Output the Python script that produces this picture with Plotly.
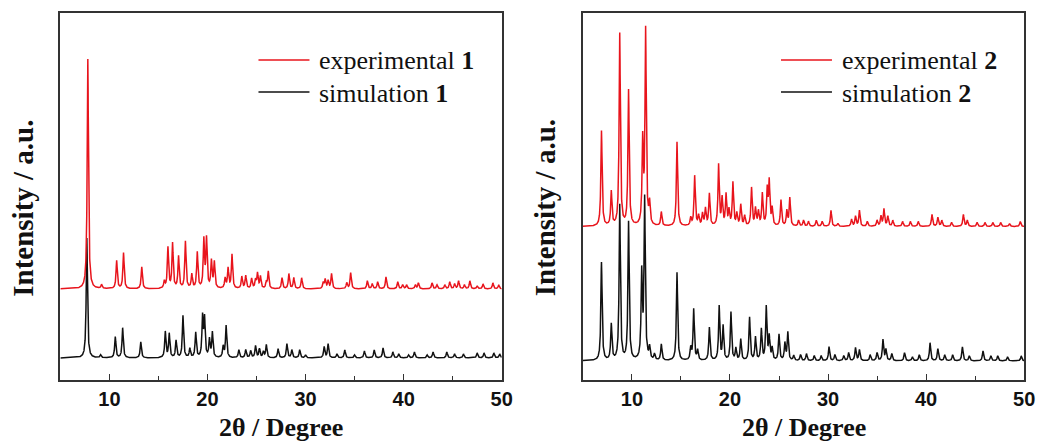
import numpy as np
import plotly.graph_objects as go

# ---------------- data (peak positions in 2theta, peak heights in a.u.) ----------------
exp1_pos = [7.8, 9.2, 10.74, 11.44, 13.3, 15.6, 15.97, 16.44, 17.05, 17.75, 18.4, 18.96, 19.63, 19.9,
            20.4, 20.7, 21.8, 22.1, 22.5, 23.5, 23.9, 24.5, 24.9, 25.1, 25.4, 26.0, 26.2, 27.6, 28.3,
            28.8, 29.6, 31.8, 32.0, 32.3, 32.65, 34.2, 34.6, 36.3, 36.8, 37.35, 38.2, 39.4, 39.9,
            40.3, 41.2, 41.5, 42.9, 43.4, 44.2, 44.7, 45.2, 45.6, 46.2, 46.75, 47.5, 48.1, 49.1, 49.7]
exp1_int = [230, 4, 28, 36, 22, 7, 41, 45, 32, 47, 14, 36, 48, 49,
            27, 26, 10, 20, 34, 12, 13, 10, 8, 15, 12, 6, 17, 11, 15,
            11, 11, 6, 9, 8, 15, 6, 16, 8, 5, 7, 12, 7, 4,
            4, 4, 6, 6, 4, 4, 7, 5, 8, 4, 8, 3, 5, 6, 4]

sim1_pos = [7.7, 9.1, 10.6, 11.35, 13.2, 15.7, 16.1, 16.8, 17.5, 18.2, 18.8, 19.5, 19.7, 20.2, 20.5,
            21.6, 21.9, 23.2, 23.9, 24.4, 24.9, 25.3, 25.7, 26.0, 27.2, 28.1, 28.6, 29.4, 30.0, 31.9,
            32.3, 33.2, 34.0, 35.0, 36.0, 37.0, 37.9, 38.9, 39.5, 40.5, 41.1, 42.4, 43.0, 44.4, 45.2,
            46.1, 47.5, 48.2, 49.2, 49.8]
sim1_int = [120, 3, 21, 30, 16, 26, 24, 17, 42, 9, 25, 40, 38, 18, 25,
            11, 32, 8, 8, 7, 12, 9, 6, 13, 9, 14, 8, 8, 3, 11,
            14, 4, 8, 3, 7, 8, 10, 6, 4, 3, 6, 3, 6, 6, 4,
            4, 5, 5, 5, 4]

exp2_pos = [6.9, 7.9, 8.76, 9.66, 11.1, 11.4, 11.8, 13.0, 14.6, 16.0, 16.4, 16.8, 17.2, 17.5, 17.9,
            18.84, 19.2, 19.6, 19.9, 20.3, 20.7, 21.1, 21.5, 22.2, 22.6, 22.9, 23.3, 23.8, 24.0, 24.3,
            25.2, 25.8, 26.1, 27.0, 27.5, 28.0, 28.8, 29.4, 30.3, 31.0, 32.4, 32.8, 33.2, 34.0, 35.0,
            35.4, 35.7, 36.1, 36.6, 37.6, 38.4, 39.2, 40.6, 41.2, 41.6, 42.6, 43.8, 44.2, 45.2, 46.0,
            46.8, 47.6, 48.5, 49.6]
exp2_int = [95, 34, 192, 135, 83, 194, 21, 14, 84, 8, 50, 10, 12, 17, 32,
            61, 27, 31, 15, 43, 12, 21, 10, 38, 17, 14, 32, 35, 43, 17,
            26, 15, 28, 6, 6, 5, 6, 5, 16, 3, 7, 10, 16, 5, 6,
            10, 17, 10, 6, 5, 5, 5, 12, 9, 6, 4, 12, 6, 4, 4,
            4, 4, 3, 5]

sim2_pos = [6.9, 7.9, 8.76, 9.66, 11.0, 11.3, 11.8, 12.3, 13.0, 14.6, 16.0, 16.3, 16.7, 17.9, 18.9,
            19.3, 20.1, 20.6, 21.1, 22.0, 22.6, 23.2, 23.7, 24.0, 24.3, 25.0, 25.6, 25.9, 26.5, 27.2,
            27.8, 28.6, 29.3, 30.1, 30.7, 31.6, 32.1, 32.8, 33.2, 34.3, 35.0, 35.6, 35.9, 36.5, 37.8,
            38.6, 39.3, 40.4, 41.2, 41.9, 42.7, 43.7, 44.4, 45.8, 46.6, 47.3, 48.3, 49.7]
sim2_int = [98, 36, 155, 138, 85, 160, 12, 6, 16, 88, 12, 51, 10, 33, 54,
            34, 48, 12, 21, 43, 23, 31, 53, 23, 12, 26, 17, 28, 5, 6,
            7, 5, 5, 14, 6, 5, 8, 13, 11, 6, 8, 21, 11, 7, 8,
            4, 6, 18, 12, 6, 6, 14, 5, 10, 5, 5, 4, 5]

offset_exp1, offset_sim1 = 91, 22
offset_exp2, offset_sim2 = 153, 19

x_ticks = [10, 20, 30, 40, 50]

# ---------------- build profiles ----------------
two_theta = np.arange(5.0, 50.001, 0.01)
HW = 0.075


def profile(pos, inten, base):
    p = np.asarray(pos)[:, None]
    h = np.asarray(inten)[:, None]
    return base + (h / (1 + ((two_theta[None, :] - p) / HW) ** 2)).sum(axis=0)


RED = "#e8141c"
BLACK = "#111111"
LW = 1.5

fig = go.Figure()
fig.add_trace(go.Scatter(x=two_theta, y=profile(sim1_pos, sim1_int, offset_sim1), mode="lines",
                         line=dict(color=BLACK, width=LW), name="simulation 1", xaxis="x", yaxis="y",
                         showlegend=False))
fig.add_trace(go.Scatter(x=two_theta, y=profile(exp1_pos, exp1_int, offset_exp1), mode="lines",
                         line=dict(color=RED, width=LW), name="experimental 1", xaxis="x", yaxis="y",
                         showlegend=False))
fig.add_trace(go.Scatter(x=two_theta, y=profile(sim2_pos, sim2_int, offset_sim2), mode="lines",
                         line=dict(color=BLACK, width=LW), name="simulation 2", xaxis="x2", yaxis="y2",
                         showlegend=False))
fig.add_trace(go.Scatter(x=two_theta, y=profile(exp2_pos, exp2_int, offset_exp2), mode="lines",
                         line=dict(color=RED, width=LW), name="experimental 2", xaxis="x2", yaxis="y2",
                         showlegend=False))

W, H = 1054, 443
ybot = 1 - 380 / H
ytop = 1 - 13 / H

xax = dict(range=[5, 50], tickvals=x_ticks, ticks="inside", ticklen=6, tickwidth=1.3,
           tickcolor="#333", showline=True, linecolor="#333", linewidth=1.5, mirror=True,
           showgrid=False, zeroline=False,
           tickfont=dict(family="Liberation Sans", size=20, color="#111", weight="bold"),
           minor=dict(tickvals=[15, 25, 35, 45], ticks="inside", ticklen=4, tickwidth=1.2, tickcolor="#333"))
yax = dict(showline=True, linecolor="#333", linewidth=1.5, mirror=True, showticklabels=False,
           ticks="", showgrid=False, zeroline=False)

fig.update_layout(
    width=W, height=H, margin=dict(l=0, r=0, t=0, b=0),
    plot_bgcolor="white", paper_bgcolor="white",
    xaxis=dict(domain=[61 / W, 507 / W], anchor="y", **xax),
    yaxis=dict(domain=[ybot, ytop], range=[0, 367], anchor="x", **yax),
    xaxis2=dict(domain=[589 / W, 1035 / W], anchor="y2", **xax),
    yaxis2=dict(domain=[ybot, ytop], range=[0, 366], anchor="x2", **yax),
)

serif = "Liberation Serif"
ann = []
shapes = []
for i, (xr, cx, num) in enumerate([("x", 284, "1"), ("x2", 812, "2")]):
    # axis titles
    ann.append(dict(text="<b>2θ / Degree</b>", xref="paper", yref="paper", x=cx / W, y=1 - 427 / H,
                    xanchor="center", yanchor="middle", showarrow=False,
                    font=dict(family=serif, size=26, color="#111")))
    ylx = 23 if i == 0 else 551
    ann.append(dict(text="<b>Intensity / a.u.</b>", xref="paper", yref="paper", x=ylx / W, y=1 - 208 / H,
                    xanchor="center", yanchor="middle", textangle=-90, showarrow=False,
                    font=dict(family=serif, size=29, color="#111")))
    # legend
    for row, (label, col) in enumerate([("experimental", RED), ("simulation", BLACK)]):
        yy = [60, 92][row]
        shapes.append(dict(type="line", xref=xr, yref="paper", x0=25.2, x1=30.4,
                           y0=1 - yy / H, y1=1 - yy / H, line=dict(color=col, width=1.3)))
        ann.append(dict(text=f"{label} <b>{num}</b>", xref=xr, yref="paper", x=31.2, y=1 - (yy + 1) / H,
                        xanchor="left", yanchor="middle", showarrow=False,
                        font=dict(family=serif, size=26, color="#111")))

fig.update_layout(annotations=ann, shapes=shapes)
fig.write_html("out.html", config={"displayModeBar": False},
               post_script="document.body.style.margin='0';document.body.style.overflow='hidden';")
